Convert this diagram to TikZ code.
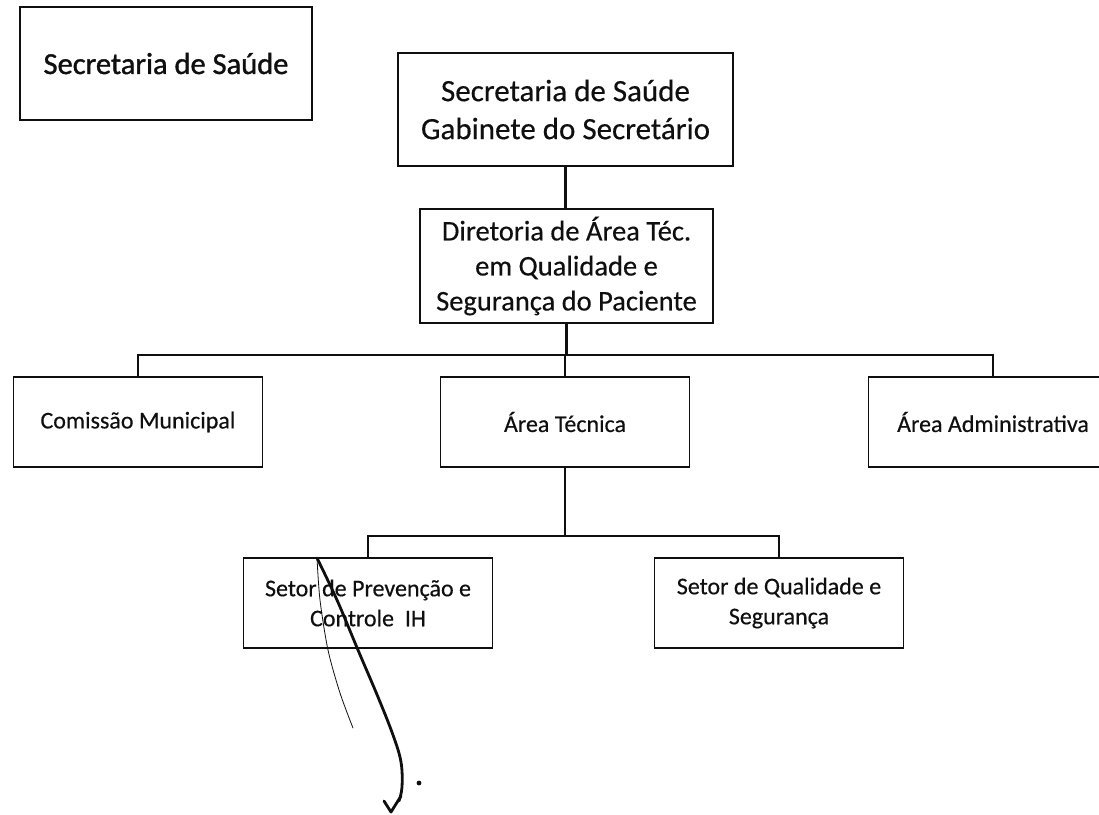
\documentclass[tikz,border=0pt]{standalone}
\usepackage{fontspec}
\setmainfont{Carlito}[FakeBold=0.4]
\newfontfamily\headfont[FakeBold=1.2]{Carlito}
\usepackage{tikz}
\usetikzlibrary{calc}
\definecolor{ink}{RGB}{15,15,15}
\tikzset{
  orgbox/.style={draw=ink, line width=1.8pt, text=ink, align=center,
                 inner sep=0pt, minimum width=249pt, minimum height=90pt,
                 font=\fontsize{24}{30}\selectfont},
  link/.style={draw=ink, line width=2.2pt},
  pen/.style={draw=ink, line cap=round, line join=round},
}

\begin{document}
\begin{tikzpicture}[x=1pt, y=-1pt]
    \useasboundingbox (0,0) rectangle (1099,814);
    \clip (0,0) rectangle (1099,814);

    % top row
    \node[orgbox, minimum width=292pt, minimum height=113pt,
          font=\headfont\fontsize{30.5}{36}\selectfont] (secr) at (166,63.5)
      {Secretaria de Saúde};
    \node[orgbox, minimum width=335pt, minimum height=113pt,
          font=\fontsize{31}{38}\selectfont] (gab) at (565.5,109.5)
      {Secretaria de Saúde\\Gabinete do Secretário};
    \node[orgbox, minimum width=293pt, minimum height=114pt,
          font=\fontsize{28.5}{35}\selectfont] (dir) at (566.5,266)
      {Diretoria de Área Téc.\\em Qualidade e\\Segurança do Paciente};

    % areas
    \node[orgbox] (com) at (138,422) {Comissão Municipal};
    \node[orgbox] (tec) at (565,422) {Área Técnica};
    \node[orgbox] (adm) at (993,422) {Área Administrativa};

    % setores
    \node[orgbox] (prev) at (368,603) {Setor de Prevenção e\\Controle\ \ IH};
    \node[orgbox] (qual) at (779,603) {Setor de Qualidade e\\Segurança};

    % connectors
    \coordinate (bustop) at (565,355);
    \coordinate (buslow) at (565,536);
    \draw[link] (gab.south) -- (gab.south |- dir.north);
    \draw[link] (dir.south) -- (dir.south |- bustop);
    \draw[link] (tec.north) -- (tec.north |- bustop);
    \draw[link] (com.north) -- (com.north |- bustop) -| (adm.north);
    \draw[link] (tec.south) -- (tec.south |- buslow);
    \draw[link] (prev.north) -- (prev.north |- buslow) -| (qual.north);

    % handwritten mark
    \coordinate (mark) at (317,558);
    \draw[pen, line width=2.8pt] plot[smooth, tension=0.6] coordinates
      {(mark) (337,600) (358,650) (378,697) (393,735) (401,762) (402,787) (399,801)};
    \draw[pen, line width=2.8pt] (384,801) -- (391,812) -- (401,796);
    \draw[pen, line width=0.8pt] plot[smooth] coordinates
      {(mark) (320,600) (328,650) (340,693) (353,728)};
    \fill[ink] (419,783) circle (2.4pt);
\end{tikzpicture}
\end{document}
